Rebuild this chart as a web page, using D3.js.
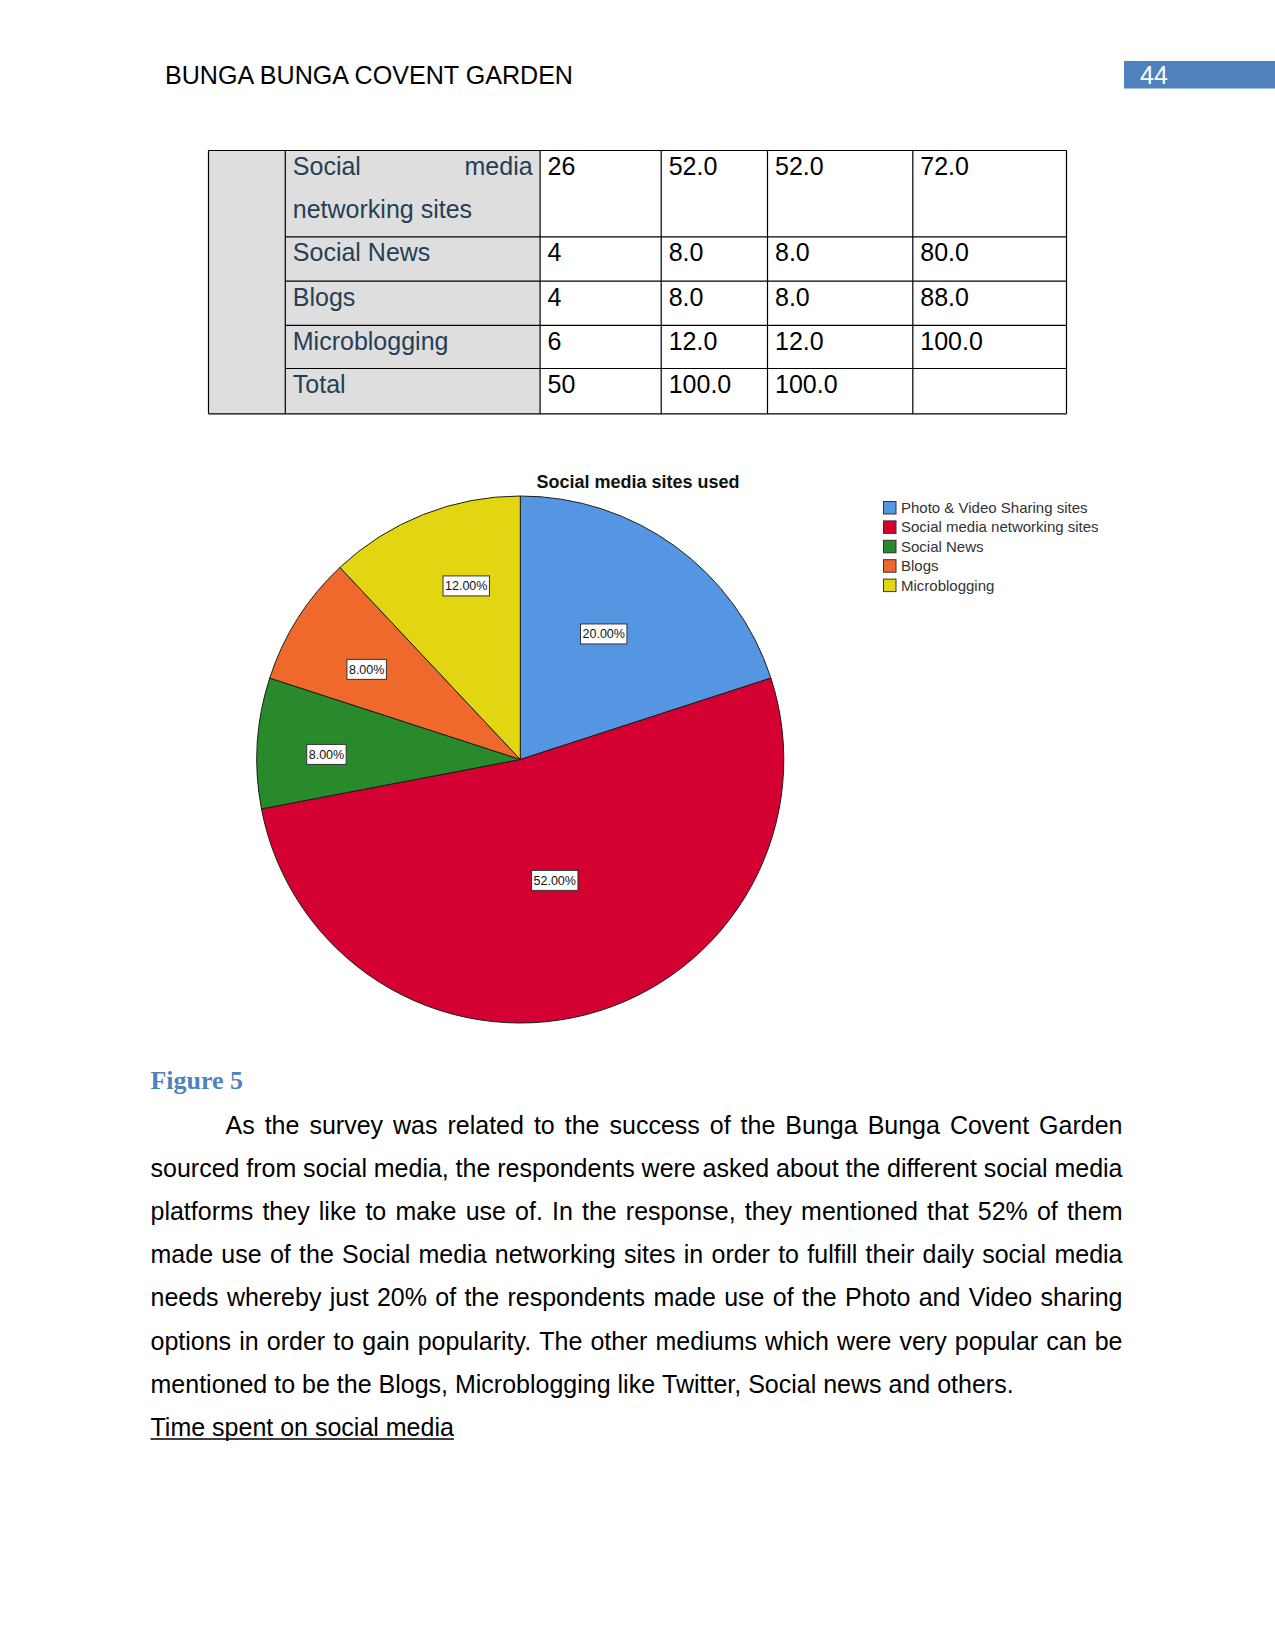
<!DOCTYPE html>
<html><head><meta charset="utf-8">
<script src="https://cdn.jsdelivr.net/npm/d3@7"></script>
<style>body{margin:0;background:#fff}svg{display:block}</style>
</head><body>
<script>
// ---------------- DATA ----------------
const categories = ["Photo & Video Sharing sites", "Social media networking sites", "Social News", "Blogs", "Microblogging"];
const percentValues = [20, 52, 8, 8, 12];
const percentLabels = ["20.00%", "52.00%", "8.00%", "8.00%", "12.00%"];
const chartTitle = "Social media sites used";

const tableLabels = ["Social media networking sites", "Social News", "Blogs", "Microblogging", "Total"];
const frequency = ["26", "4", "4", "6", "50"];
const percentCol = ["52.0", "8.0", "8.0", "12.0", "100.0"];
const validPercentCol = ["52.0", "8.0", "8.0", "12.0", "100.0"];
const cumulativeCol = ["72.0", "80.0", "88.0", "100.0", ""];

const headerText = "BUNGA BUNGA COVENT GARDEN";
const pageNumber = "44";
const captionText = "Figure 5";
const bodyLines = [
  "As the survey was related to the success of the Bunga Bunga Covent Garden",
  "sourced from social media, the respondents were asked about the different social media",
  "platforms they like to make use of. In the response, they mentioned that 52% of them",
  "made use of the Social media networking sites in order to fulfill their daily social media",
  "needs whereby just 20% of the respondents made use of the Photo and Video sharing",
  "options in order to gain popularity. The other mediums which were very popular can be",
  "mentioned to be the Blogs, Microblogging like Twitter, Social news and others."
];
const headingText = "Time spent on social media";

// ---------------- STYLE / LAYOUT ----------------
const sliceColors = ["#5596e3", "#d50032", "#288a2a", "#f0692c", "#e2d512"];
const FONT = "'Liberation Sans', Arial, sans-serif";
const W = 1275, H = 1651;
const labelPlacement = [ // radius fraction, angle nudge (deg)
  {r: 0.572, da: -2.4}, {r: 0.477, da: -1.5}, {r: 0.736, da: -2.1}, {r: 0.676, da: -2.0}, {r: 0.690, da: 4.3}
];

const svg = d3.select("body").append("svg").attr("width", W).attr("height", H)
  .style("font-family", FONT);

// ---------- Header ----------
svg.append("text").attr("x", 165).attr("y", 84).attr("font-size", 25).attr("fill", "#000")
  .attr("textLength", 408).attr("lengthAdjust", "spacingAndGlyphs").text(headerText);
svg.append("rect").attr("x", 1124).attr("y", 61).attr("width", W - 1124).attr("height", 27.5).attr("fill", "#4f81bd");
svg.append("text").attr("x", 1140).attr("y", 84).attr("font-size", 25).attr("fill", "#fff").text(pageNumber);

// ---------- Table ----------
const colX = [208.5, 285.3, 540.1, 661.2, 767.5, 912.8, 1066.5];
const rowY = [150.5, 236.9, 281.1, 325.3, 368.5, 413.8];
const tbl = svg.append("g");
tbl.append("rect").attr("x", colX[0]).attr("y", rowY[0]).attr("width", colX[2] - colX[0])
  .attr("height", rowY[5] - rowY[0]).attr("fill", "#dedede");
rowY.forEach((y, i) => {
  const x0 = (i === 0 || i === rowY.length - 1) ? colX[0] : colX[1];
  tbl.append("line").attr("x1", x0).attr("x2", colX[6]).attr("y1", y).attr("y2", y)
    .attr("stroke", "#000").attr("stroke-width", 1.2);
});
colX.forEach(x => {
  tbl.append("line").attr("x1", x).attr("x2", x).attr("y1", rowY[0]).attr("y2", rowY[5])
    .attr("stroke", "#000").attr("stroke-width", 1.2);
});
const labelColor = "#263f55";
tbl.append("text").attr("x", colX[1] + 7.5).attr("y", rowY[0] + 24.5).attr("font-size", 25).attr("fill", labelColor).text("Social");
tbl.append("text").attr("x", colX[2] - 7.5).attr("y", rowY[0] + 24.5).attr("font-size", 25).attr("fill", labelColor)
  .attr("text-anchor", "end").text("media");
tbl.append("text").attr("x", colX[1] + 7.5).attr("y", rowY[0] + 24.5 + 43.2).attr("font-size", 25).attr("fill", labelColor).text("networking sites");
tableLabels.forEach((lab, i) => {
  if (i > 0) tbl.append("text").attr("x", colX[1] + 7.5).attr("y", rowY[i] + 24.5).attr("font-size", 25).attr("fill", labelColor).text(lab);
  [frequency, percentCol, validPercentCol, cumulativeCol].forEach((col, c) => {
    tbl.append("text").attr("x", colX[c + 2] + 7.5).attr("y", rowY[i] + 24.5).attr("font-size", 25).attr("fill", "#000").text(col[i]);
  });
});

// ---------- Pie chart ----------
const cx = 520.3, cy = 759.5, R = 263.5;
svg.append("text").attr("x", 638).attr("y", 488).attr("text-anchor", "middle").attr("font-size", 18)
  .attr("font-weight", "bold").attr("fill", "#111").text(chartTitle);
const pie = d3.pie().sort(null).value(d => d);
const arcs = pie(percentValues);
const arc = d3.arc().innerRadius(0).outerRadius(R);
const pg = svg.append("g").attr("transform", `translate(${cx},${cy})`);
pg.selectAll("path").data(arcs).join("path").attr("d", arc)
  .attr("fill", (d, i) => sliceColors[i]).attr("stroke", "#1c1c1c").attr("stroke-width", 1);

const lg = pg.selectAll("g.lbl").data(arcs).join("g").attr("class", "lbl")
  .attr("transform", (d, i) => {
    const a = (d.startAngle + d.endAngle) / 2 + labelPlacement[i].da * Math.PI / 180;
    const r = R * labelPlacement[i].r;
    return `translate(${r * Math.sin(a)},${-r * Math.cos(a)})`;
  });
lg.each(function (d, i) {
  const g = d3.select(this);
  const t = g.append("text").attr("text-anchor", "middle").attr("dy", "0.36em").attr("font-size", 12.5)
    .attr("fill", "#111").text(percentLabels[i]);
  const w = t.node().getComputedTextLength() + 4;
  g.insert("rect", "text").attr("x", -w / 2).attr("y", -10).attr("width", w).attr("height", 20)
    .attr("fill", "#fff").attr("stroke", "#333").attr("stroke-width", 1);
});

// ---------- Legend ----------
const legend = svg.append("g").attr("transform", "translate(883,501)");
categories.forEach((c, i) => {
  const g = legend.append("g").attr("transform", `translate(0,${i * 19.4})`);
  g.append("rect").attr("x", 0.5).attr("y", 0.5).attr("width", 12.5).attr("height", 12.5)
    .attr("fill", sliceColors[i]).attr("stroke", "#333").attr("stroke-width", 1);
  g.append("text").attr("x", 18).attr("y", 12).attr("font-size", 15).attr("fill", "#333").text(c);
});

// ---------- Caption ----------
svg.append("text").attr("x", 150.5).attr("y", 1089).attr("font-family", "'Liberation Serif', Cambria, serif")
  .attr("font-weight", "bold").attr("font-size", 25.5).attr("fill", "#4f81bd")
  .attr("textLength", 92.5).attr("lengthAdjust", "spacingAndGlyphs").text(captionText);

// ---------- Body text (justified) ----------
const left = 150.5, right = 1122.5, base0 = 1133.5, pitch = 43.2;
const measure = svg.append("text").attr("font-size", 25).attr("visibility", "hidden");
function wordWidth(w) { measure.text(w); return measure.node().getComputedTextLength(); }
bodyLines.forEach((line, i) => {
  const x0 = i === 0 ? left + 75 : left;
  const words = line.split(" ");
  const widths = words.map(wordWidth);
  const last = i === bodyLines.length - 1;
  const total = d3.sum(widths);
  const gap = last ? wordWidth("a b") - wordWidth("ab") : (right - x0 - total) / (words.length - 1);
  const t = svg.append("text").attr("y", base0 + i * pitch).attr("font-size", 25).attr("fill", "#000");
  let x = x0;
  words.forEach((w, k) => { t.append("tspan").attr("x", x).text(w); x += widths[k] + gap; });
});
measure.remove();
const hy = base0 + bodyLines.length * pitch;
const ht = svg.append("text").attr("x", left).attr("y", hy).attr("font-size", 25).attr("fill", "#000").text(headingText);
const hw = ht.node().getComputedTextLength();
svg.append("line").attr("x1", left).attr("x2", left + hw).attr("y1", hy + 3).attr("y2", hy + 3)
  .attr("stroke", "#000").attr("stroke-width", 1.5);
</script>
</body></html>
